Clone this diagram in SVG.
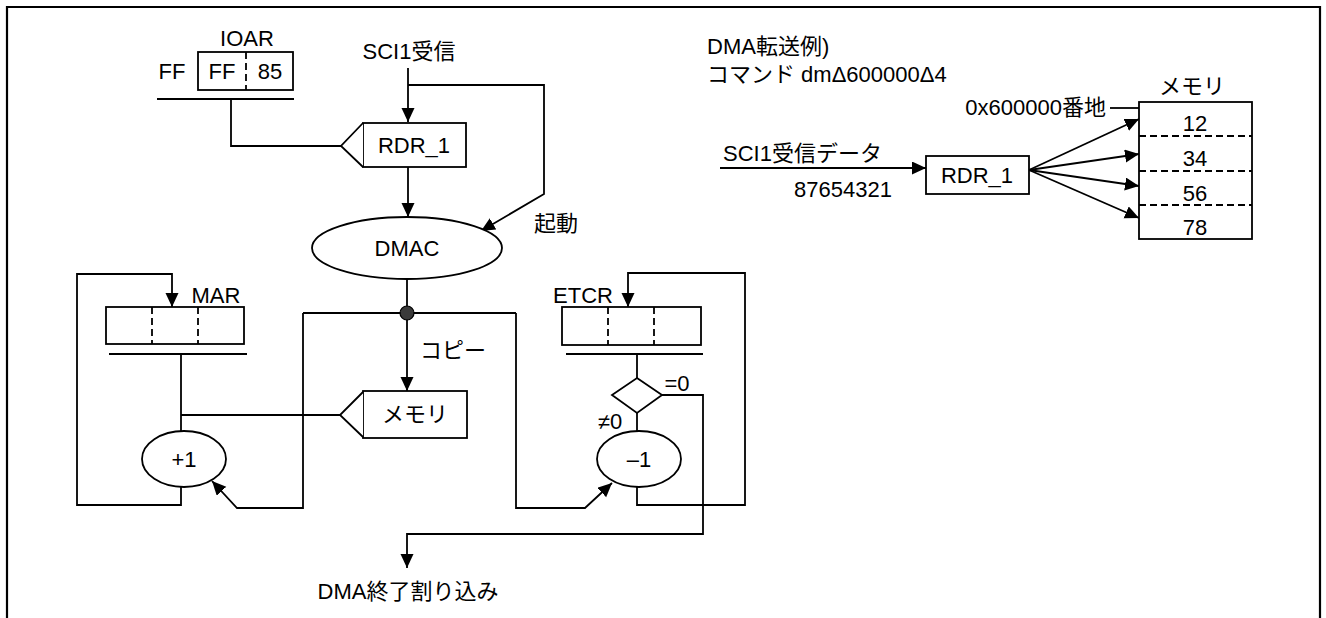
<svg xmlns="http://www.w3.org/2000/svg" width="1326" height="618" viewBox="0 0 1326 618">
<defs>
<marker id="ah" markerUnits="userSpaceOnUse" markerWidth="15" markerHeight="14" refX="14" refY="6.5" orient="auto"><path d="M0,0 L14,6.5 L0,13 z" fill="#000"/></marker>
<style>
.t{font-family:"Liberation Sans","Noto Sans CJK JP",sans-serif;font-size:22px;fill:#000}
.m{text-anchor:middle}
.s{fill:none;stroke:#000;stroke-width:1.8}
.b{fill:#fff;stroke:#000;stroke-width:1.8}
.d{fill:none;stroke:#000;stroke-width:1.8;stroke-dasharray:7 4}
.a{fill:none;stroke:#000;stroke-width:1.8;marker-end:url(#ah)}
</style>
</defs>
<rect width="1326" height="618" fill="#fff"/>
<path d="M7,618 V7 H1320 V618" fill="none" stroke="#000" stroke-width="2.2"/>

<g id="connectors">
<path class="s" d="M231,99 V146 H341"/>
<path class="a" d="M408,68 V122"/>
<path class="a" d="M408,85 H544 V194 L481,231"/>
<path class="a" d="M408,167 V217"/>
<path class="s" d="M407,279 V313"/>
<path class="a" d="M407,313 V391"/>
<path class="s" d="M303,313 H516"/>
<path class="a" d="M303,313 V508 H237 L212,481"/>
<path class="a" d="M516,313 V508 H585 L612,483"/>
<path class="s" d="M181,354 V432"/>
<path class="s" d="M181,415 H340"/>
<path class="a" d="M181,487 V505 H77 V274 H172 V307"/>
<path class="s" d="M637,354 V378"/>
<path class="s" d="M637,413 V432"/>
<path class="a" d="M637,487 V505 H745 V273 H628 V307"/>
<path class="a" d="M662,395 H703 V534 H407 V568"/>
<path class="a" d="M720,168 H926"/>
<path class="a" d="M1029,170 L1139,119"/>
<path class="a" d="M1029,170 L1139,154"/>
<path class="a" d="M1029,170 L1139,186"/>
<path class="a" d="M1029,170 L1139,218"/>
<path class="s" d="M1110,108 H1139"/>
<circle cx="407" cy="313" r="7" fill="#3a3a3a" stroke="#000" stroke-width="1.2"/>
</g>

<g id="ioar">
<text class="t m" x="247" y="46">IOAR</text>
<text class="t m" x="172" y="79">FF</text>
<rect class="b" x="198" y="52" width="95" height="38"/>
<path class="d" d="M246,52 V90"/>
<text class="t m" x="222" y="79">FF</text>
<text class="t m" x="270" y="79">85</text>
<path class="s" d="M157,99 H294"/>
</g>

<g id="sci1">
<text class="t m" x="409" y="59">SCI1受信</text>
</g>

<g id="rdr1">
<rect class="b" x="363" y="123" width="103" height="44"/>
<path class="b" d="M363,123 L341,146 L363,167"/>
<text class="t m" x="414" y="153">RDR_1</text>
</g>

<g id="dmac">
<ellipse class="b" cx="407" cy="248" rx="95" ry="31"/>
<text class="t m" x="407" y="256">DMAC</text>
<text class="t m" x="556" y="231">起動</text>
</g>

<g id="mar">
<text class="t m" x="216" y="303">MAR</text>
<rect class="b" x="106" y="307" width="138" height="37"/>
<path class="d" d="M152,307 V344 M198,307 V344"/>
<path class="s" d="M109,354 H247"/>
</g>

<g id="memory">
<text class="t" x="420" y="358">コピー</text>
<rect class="b" x="363" y="391" width="104" height="47"/>
<path class="b" d="M363,392 L340,415 L363,437"/>
<text class="t m" x="415" y="422">メモリ</text>
</g>

<g id="plus1">
<ellipse class="b" cx="184" cy="459" rx="42" ry="28"/>
<text class="t m" x="184" y="467">+1</text>
</g>

<g id="etcr">
<text class="t m" x="583" y="303">ETCR</text>
<rect class="b" x="562" y="307" width="139" height="38"/>
<path class="d" d="M608,307 V345 M654,307 V345"/>
<path class="s" d="M566,354 H703"/>
</g>

<g id="decision">
<path class="b" d="M637,378 L662,395 L637,413 L612,395 Z"/>
<text class="t m" x="677" y="391">=0</text>
<text class="t m" x="610" y="429">≠0</text>
</g>

<g id="minus1">
<ellipse class="b" cx="639" cy="459" rx="42" ry="28"/>
<text class="t m" x="639" y="467">–1</text>
</g>

<g id="end">
<text class="t m" x="408" y="599">DMA終了割り込み</text>
</g>

<g id="example">
<text class="t" x="707" y="54">DMA転送例)</text>
<text class="t" x="707" y="82">コマンド dmΔ600000Δ4</text>
<text class="t" x="723" y="161">SCI1受信データ</text>
<text class="t m" x="843" y="197">87654321</text>
</g>

<g id="rdr1b">
<rect class="b" x="926" y="156" width="103" height="38"/>
<text class="t m" x="977" y="183">RDR_1</text>
</g>

<g id="memmap">
<text class="t m" x="1192" y="94">メモリ</text>
<text class="t" x="1106" y="115" text-anchor="end">0x600000番地</text>
<rect class="b" x="1139" y="102" width="113" height="137"/>
<path class="d" d="M1139,136 H1252 M1139,171 H1252 M1139,205 H1252"/>
<text class="t m" x="1195" y="131">12</text>
<text class="t m" x="1195" y="166">34</text>
<text class="t m" x="1195" y="201">56</text>
<text class="t m" x="1195" y="235">78</text>
</g>
</svg>
